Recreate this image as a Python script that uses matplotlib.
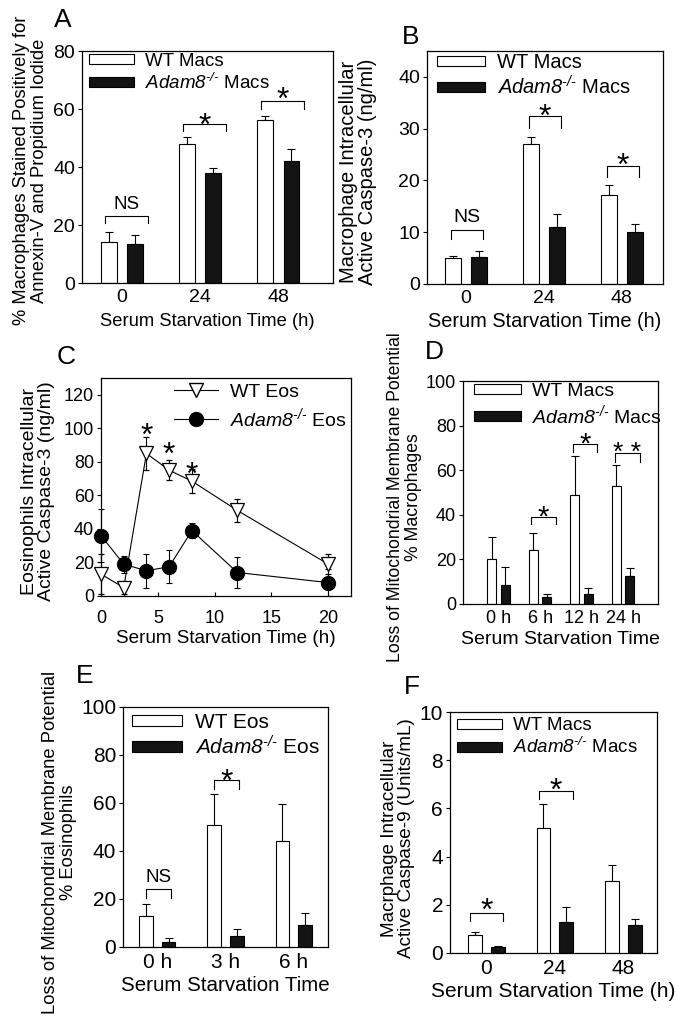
import numpy as np
import matplotlib
matplotlib.use("Agg")
import matplotlib.pyplot as plt
from matplotlib.patches import Patch
from matplotlib.lines import Line2D

plt.rcParams["font.family"] = ["Liberation Sans", "DejaVu Sans"]
plt.rcParams["mathtext.fontset"] = "custom"
plt.rcParams["mathtext.rm"] = "Liberation Sans"
plt.rcParams["mathtext.it"] = "Liberation Sans:italic"
# bf slot is used for the italic gene name (digits and hyphens stay italic there)
plt.rcParams["mathtext.bf"] = "Liberation Sans:italic"
plt.rcParams["axes.linewidth"] = 0.9

# --- data ---
# A: annexin-V / PI positive macrophages (%)
groups_a = ["0", "24", "48"]
wt_a = [14.0, 48.0, 56.3]
wt_a_err = [3.5, 2.5, 1.2]
ko_a = [13.3, 38.0, 42.0]
ko_a_err = [3.2, 1.5, 4.3]

# B: macrophage active caspase-3 (ng/ml)
groups_b = ["0", "24", "48"]
wt_b = [5.0, 27.0, 17.2]
wt_b_err = [0.5, 1.3, 2.0]
ko_b = [5.2, 11.0, 10.0]
ko_b_err = [1.1, 2.6, 1.6]

# C: eosinophil active caspase-3 time course (ng/ml)
time_c = [0, 2, 4, 6, 8, 12, 20]
wt_c = [13, 5, 85, 75, 68.5, 51, 19]
wt_c_err = [12, 4, 10, 6, 7, 7, 6]
ko_c = [36, 19, 15, 17.5, 39, 14, 8]
ko_c_err = [16, 5, 10, 10, 4.5, 9.5, 8]

# D: loss of mitochondrial membrane potential, macrophages (%)
groups_d = ["0 h", "6 h", "12 h", "24 h"]
wt_d = [20.0, 24.0, 49.0, 53.0]
wt_d_err = [10.0, 7.8, 17.5, 9.5]
ko_d = [8.5, 3.0, 4.5, 12.5]
ko_d_err = [8.0, 1.5, 2.5, 3.8]

# E: loss of mitochondrial membrane potential, eosinophils (%)
groups_e = ["0 h", "3 h", "6 h"]
wt_e = [12.8, 51.0, 44.0]
wt_e_err = [5.3, 12.7, 15.5]
ko_e = [2.0, 4.7, 9.0]
ko_e_err = [1.7, 3.0, 5.0]

# F: macrophage active caspase-9 (Units/mL)
groups_f = ["0", "24", "48"]
wt_f = [0.75, 5.2, 3.0]
wt_f_err = [0.12, 1.0, 0.65]
ko_f = [0.25, 1.3, 1.15]
ko_f_err = [0.02, 0.6, 0.25]

KO = "$\\mathbf{Adam8}^{\\mathbf{\u2010/\u2010}}$"

W, H = 677, 1028
fig = plt.figure(figsize=(W / 100, H / 100), dpi=100)


def px_axes(left, top, right, bottom):
    return fig.add_axes([left / W, 1 - bottom / H, (right - left) / W, (bottom - top) / H])


def bar_panel(ax, labels, wt, wt_err, ko, ko_err, ylim, yticks, xlim,
              names, fs, width=0.2, off=0.167):
    x = np.arange(len(labels))
    z = np.zeros(len(labels))
    ax.bar(x - off, wt, width, color="white", edgecolor="black", lw=0.8, zorder=2)
    ax.bar(x + off, ko, width, color="#141414", edgecolor="black", lw=0.8, zorder=2)
    ax.errorbar(x - off, wt, yerr=[z, wt_err], fmt="none", ecolor="black",
                elinewidth=0.8, capsize=3, capthick=0.8, zorder=1)
    ax.errorbar(x + off, ko, yerr=[z, ko_err], fmt="none", ecolor="black",
                elinewidth=0.8, capsize=3, capthick=0.8, zorder=1)
    ax.set_xlim(*xlim)
    ax.set_ylim(*ylim)
    ax.set_yticks(yticks)
    ax.set_xticks(x)
    ax.set_xticklabels(labels)
    ax.tick_params(axis="x", length=0, pad=4, labelsize=fs["tick"])
    ax.tick_params(axis="y", direction="out", length=3, width=0.8, pad=2, labelsize=fs["tick"])
    handles = [Patch(facecolor="white", edgecolor="black", lw=0.8),
               Patch(facecolor="#141414", edgecolor="black", lw=0.8)]
    ax.legend(handles, names, loc="upper left", bbox_to_anchor=fs["leg_at"],
              frameon=False, fontsize=fs["leg"], handlelength=2.4, handleheight=0.42,
              handletextpad=0.6, labelspacing=0.15, borderaxespad=0, borderpad=0.1)


def bracket(ax, xc, x0, x1, y, drop, text, ty, size):
    ax.plot([xc + x0, xc + x0, xc + x1, xc + x1], [y - drop, y, y, y - drop],
            color="black", lw=0.8)
    xm = xc + (x0 + x1) / 2
    if text == "NS":
        ax.text(xm, ty, text, ha="center", va="baseline", fontsize=size)
    else:
        ax.annotate(text, xy=(xm, ty), xytext=(0, -0.55 * size), textcoords="offset points",
                    ha="center", va="baseline", fontsize=size)


def panel_letter(x, y, s):
    fig.text(x / W, 1 - y / H, s, ha="center", va="center", fontsize=19)


STAR = 23

# ---- A ----
ax = px_axes(82, 51, 333, 283)
bar_panel(ax, groups_a, wt_a, wt_a_err, ko_a, ko_a_err, (0, 80), range(0, 81, 20),
          (-0.51, 2.7), ["WT Macs", KO + " Macs"],
          {"tick": 14, "leg": 13.5, "leg_at": (0.02, 1.0)})
bracket(ax, 0, -0.22, 0.33, 23, 2.4, "NS", 25.6, 13.5)
bracket(ax, 1, -0.22, 0.33, 54.7, 2.4, "*", 57, STAR)
bracket(ax, 2, -0.22, 0.33, 62.6, 2.6, "*", 66, STAR)
ax.set_xlabel("Serum Starvation Time (h)", fontsize=13.2, labelpad=5)
ax.set_ylabel("% Macrophages Stained Positively for\nAnnexin-V and Propidium Iodide",
              fontsize=13.2, linespacing=1.05)
ax.yaxis.set_label_coords(-0.135, 0.485)
panel_letter(63, 20, "A")

# ---- B ----
ax = px_axes(427, 51, 663, 284)
bar_panel(ax, groups_b, wt_b, wt_b_err, ko_b, ko_b_err, (0, 45), range(0, 41, 10),
          (-0.5, 2.53), ["WT Macs", KO + " Macs"],
          {"tick": 14, "leg": 14.5, "leg_at": (0.034, 1.0)})
bracket(ax, 0, -0.19, 0.22, 10.4, 1.8, "NS", 12, 14)
bracket(ax, 1, -0.19, 0.22, 32.4, 2.2, "*", 34, STAR)
bracket(ax, 2, -0.19, 0.22, 22.8, 2.1, "*", 24.5, STAR)
ax.set_xlabel("Serum Starvation Time (h)", fontsize=14.4, labelpad=4)
ax.set_ylabel("Macrophage Intracellular\nActive Caspase-3 (ng/ml)", fontsize=14.5,
              linespacing=1.0)
ax.yaxis.set_label_coords(-0.212, 0.48)
panel_letter(411, 37, "B")

# ---- C ----
ax = px_axes(101, 378, 351, 596)
ax.errorbar(time_c, ko_c, yerr=ko_c_err, fmt="-", color="black", lw=0.8, marker="o",
            ms=10, mfc="black", mec="black", elinewidth=0.8, capsize=2.5, capthick=0.8,
            zorder=3, clip_on=False)
ax.errorbar(time_c, wt_c, yerr=wt_c_err, fmt="-", color="black", lw=0.8, marker="v",
            ms=10, mfc="white", mec="black", mew=0.9, elinewidth=0.8, capsize=2.5,
            capthick=0.8, zorder=4, clip_on=False)
for t, yc in zip([4, 6, 8], [100.8, 89, 77.3]):
    ax.annotate("*", xy=(t, yc), xytext=(0, -0.55 * STAR), textcoords="offset points",
                ha="center", va="baseline", fontsize=STAR)
ax.set_xlim(0, 22)
ax.set_ylim(0, 130)
ax.set_xticks([0, 5, 10, 15, 20])
ax.set_yticks(range(0, 121, 20))
ax.tick_params(axis="x", direction="in", length=3, width=0.8, pad=10, labelsize=13)
ax.tick_params(axis="y", direction="out", length=3, width=0.8, pad=2, labelsize=13)
c_handles = [Line2D([], [], color="black", lw=0.8, marker="v", ms=10, mfc="white", mec="black"),
             Line2D([], [], color="black", lw=0.8, marker="o", ms=10, mfc="black", mec="black")]
ax.legend(c_handles, ["WT Eos", KO + " Eos"], loc="upper left", bbox_to_anchor=(0.29, 0.975),
          frameon=False, fontsize=14, handlelength=2.3, handletextpad=0.6,
          labelspacing=0.25, borderaxespad=0, borderpad=0)
ax.set_xlabel("Serum Starvation Time (h)", fontsize=13.6, labelpad=2)
ax.set_ylabel("Eosinophils Intracellular\nActive Caspase-3 (ng/ml)", fontsize=14,
              linespacing=1.0)
ax.yaxis.set_label_coords(-0.184, 0.48)
panel_letter(66, 357, "C")

# ---- D ----
ax = px_axes(463, 381, 658, 604)
bar_panel(ax, groups_d, wt_d, wt_d_err, ko_d, ko_d_err, (0, 100), range(0, 101, 20),
          (-0.86, 3.84), ["WT Macs", KO + " Macs"],
          {"tick": 13, "leg": 14, "leg_at": (0.046, 1.0)}, width=0.22, off=0.163)
bracket(ax, 1, -0.22, 0.38, 39.2, 3.4, "*", 42.5, 21)
bracket(ax, 2, -0.22, 0.38, 71.7, 3.4, "*", 75, 21)
bracket(ax, 3, -0.2, 0.4, 67.5, 3.6, "* *", 71, 19)
ax.set_xlabel("Serum Starvation Time", fontsize=14, labelpad=3)
ax.set_ylabel("Loss of Mitochondrial Membrane Potential\n% Macrophages", fontsize=12.7,
              linespacing=1.05)
ax.yaxis.set_label_coords(-0.21, 0.48)
panel_letter(434, 352, "D")

# ---- E ----
ax = px_axes(123, 707, 328, 947)
bar_panel(ax, groups_e, wt_e, wt_e_err, ko_e, ko_e_err, (0, 100), range(0, 101, 20),
          (-0.5, 2.5), ["WT Eos", KO + " Eos"],
          {"tick": 15, "leg": 15, "leg_at": (0.034, 0.985)})
bracket(ax, 0, -0.17, 0.2, 24, 3.4, "NS", 27.2, 13.5)
bracket(ax, 1, -0.17, 0.2, 69.4, 3.4, "*", 72.5, STAR)
ax.set_xlabel("Serum Starvation Time", fontsize=14.8, labelpad=3)
ax.set_ylabel("Loss of Mitochondrial Membrane Potential\n% Eosinophils", fontsize=13.2,
              linespacing=1.05)
ax.yaxis.set_label_coords(-0.224, 0.435)
panel_letter(85, 676, "E")

# ---- F ----
ax = px_axes(450, 712, 657, 953)
bar_panel(ax, groups_f, wt_f, wt_f_err, ko_f, ko_f_err, (0, 10), range(0, 11, 2),
          (-0.53, 2.49), ["WT Macs", KO + " Macs"],
          {"tick": 15, "leg": 13.5, "leg_at": (0.024, 0.985)})
bracket(ax, 0, -0.24, 0.24, 1.66, 0.33, "*", 2.1, STAR)
bracket(ax, 1, -0.23, 0.26, 6.73, 0.33, "*", 7.1, STAR)
ax.set_xlabel("Serum Starvation Time (h)", fontsize=15, labelpad=3)
ax.set_ylabel("Macrphage Intracellular\nActive Caspase-9 (Units/mL)", fontsize=13.6,
              linespacing=1.0)
ax.yaxis.set_label_coords(-0.169, 0.475)
panel_letter(412, 687, "F")

fig.savefig("out.png", dpi=100)
